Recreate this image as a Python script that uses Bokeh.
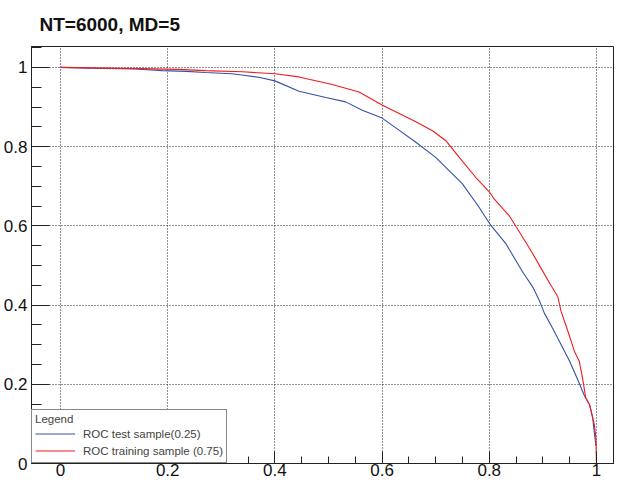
from bokeh.plotting import figure
from bokeh.models import FixedTicker, Legend, LegendItem, Range1d
from bokeh.embed import file_html
from bokeh.resources import INLINE

title_text = "NT=6000,  MD=5"

# ROC curve, test sample (signal efficiency vs background rejection)
test_x = [0.0, 0.054, 0.14, 0.19, 0.235, 0.27, 0.32, 0.338, 0.37, 0.40, 0.445, 0.495,
          0.532, 0.563, 0.60, 0.625, 0.663, 0.70, 0.75, 0.781, 0.803, 0.831, 0.862,
          0.881, 0.893, 0.903, 0.918, 0.931, 0.95, 0.965, 0.978, 0.987, 0.993, 0.995,
          0.998, 0.999]
test_y = [1.0, 0.998, 0.996, 0.992, 0.990, 0.987, 0.984, 0.981, 0.975, 0.966, 0.940, 0.924,
          0.913, 0.892, 0.872, 0.848, 0.811, 0.773, 0.706, 0.647, 0.601, 0.555, 0.484,
          0.446, 0.413, 0.379, 0.342, 0.308, 0.258, 0.212, 0.170, 0.149, 0.116, 0.090,
          0.057, 0.045]

# ROC curve, training sample
train_x = [0.0, 0.15, 0.22, 0.27, 0.34, 0.40, 0.445, 0.507, 0.557, 0.60, 0.663, 0.694,
           0.719, 0.744, 0.775, 0.80, 0.809, 0.837, 0.856, 0.881, 0.897, 0.915, 0.928,
           0.934, 0.946, 0.959, 0.968, 0.974, 0.98, 0.987, 0.996, 0.999, 1.0]
train_y = [1.0, 0.997, 0.995, 0.992, 0.989, 0.984, 0.976, 0.957, 0.938, 0.905, 0.863, 0.840,
           0.815, 0.773, 0.722, 0.686, 0.668, 0.626, 0.585, 0.530, 0.492, 0.450, 0.421,
           0.384, 0.337, 0.283, 0.258, 0.216, 0.166, 0.149, 0.099, 0.065, 0.0]

test_label = "ROC test sample(0.25)"
train_label = "ROC training sample (0.75)"

tick_values = [0.0, 0.2, 0.4, 0.6, 0.8, 1.0]
tick_labels = ["0", "0.2", "0.4", "0.6", "0.8", "1"]
minor_values = [round(-0.05 + 0.05 * i, 2) for i in range(23)]

FONT = "Liberation Sans"

p = figure(width=614, height=478, output_backend="svg", toolbar_location=None,
           x_range=Range1d(-0.0542, 1.0337), y_range=Range1d(0, 1.0528),
           min_border_left=0, min_border_right=0, min_border_top=10, min_border_bottom=0,
           title=title_text)

p.title.text_font = FONT
p.title.text_font_size = "19px"
p.title.text_font_style = "bold"
p.title.text_color = "#111111"
p.title.align = "left"
p.title.offset = 8
p.title.standoff = 23

p.outline_line_color = "#222222"
p.outline_line_width = 1
p.background_fill_color = "white"
p.border_fill_color = "white"

ticker = FixedTicker(ticks=tick_values, minor_ticks=minor_values)
overrides = {v: s for v, s in zip(tick_values, tick_labels)}

for ax, major_len, minor_len in ((p.xaxis[0], 12, 7), (p.yaxis[0], 18, 10)):
    ax.ticker = ticker
    ax.major_label_overrides = overrides
    ax.major_label_text_font = FONT
    ax.major_label_text_font_size = "17px"
    ax.major_label_text_color = "#111111"
    ax.major_tick_in = major_len
    ax.major_tick_out = 0
    ax.minor_tick_in = minor_len
    ax.minor_tick_out = 0
    ax.axis_line_color = "#222222"
    ax.major_tick_line_color = "#222222"
    ax.minor_tick_line_color = "#222222"

p.xaxis.major_label_standoff = 0
p.yaxis.major_label_standoff = 4

for g in (p.xgrid[0], p.ygrid[0]):
    g.ticker = ticker
    g.grid_line_color = "#222222"
    g.grid_line_dash = "1 2"
    g.grid_line_width = 1

r_test = p.line(test_x, test_y, line_color="#3550a8", line_width=1.1)
r_train = p.line(train_x, train_y, line_color="#ee1c1c", line_width=1.1)

legend = Legend(items=[LegendItem(label=test_label, renderers=[r_test]),
                       LegendItem(label=train_label, renderers=[r_train])],
                location="bottom_left", title="Legend")
legend.margin = 0
legend.padding = 3
legend.spacing = 0
legend.label_height = 17
legend.glyph_height = 17
legend.glyph_width = 40
legend.label_standoff = 8
legend.title_standoff = 0
legend.label_text_font = FONT
legend.label_text_font_size = "11.5px"
legend.title_text_font = FONT
legend.title_text_font_size = "11.5px"
legend.title_text_font_style = "normal"
legend.border_line_color = "#111111"
legend.border_line_width = 1
legend.background_fill_color = "white"
legend.background_fill_alpha = 1.0
p.add_layout(legend)

open("out.html", "w").write(file_html(p, INLINE))
